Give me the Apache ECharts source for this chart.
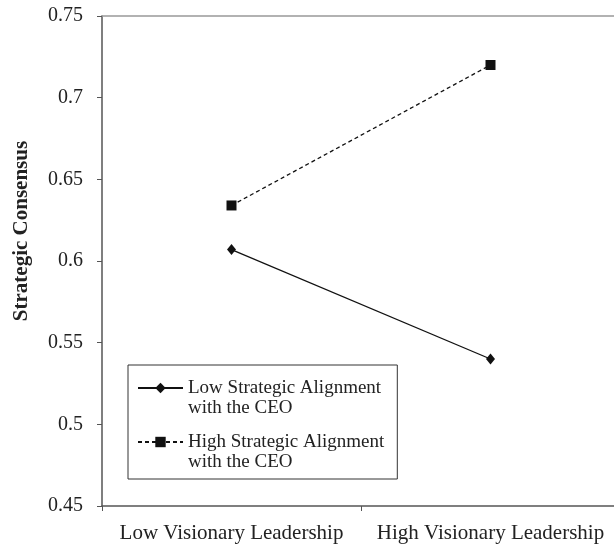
<!DOCTYPE html>
<html>
<head>
<meta charset="utf-8">
<script src="https://cdn.jsdelivr.net/npm/echarts@6/dist/echarts.min.js"></script>
<style>
  html, body { margin: 0; padding: 0; background: #fff; }
  #chart { width: 614px; height: 544px; }
</style>
</head>
<body>
<div id="chart"></div>
<script>
// 数据
const categories = ['Low Visionary Leadership', 'High Visionary Leadership']
const lowAlignment = [0.607, 0.540]
const highAlignment = [0.634, 0.720]
const seriesNames = ['Low Strategic Alignment\nwith the CEO', 'High Strategic Alignment\nwith the CEO']
const yMin = 0.45
const yMax = 0.75
const yStep = 0.05

const font = 'Liberation Serif'
const myChart = echarts.init(document.getElementById('chart'))

myChart.setOption({
  animation: false,
  textStyle: { fontFamily: font },
  grid: {
    left: 102,
    width: 518,
    top: 16,
    bottom: 38,
    outerBoundsMode: 'none'
  },
  legend: {
    left: 128,
    top: 365,
    orient: 'vertical',
    itemWidth: 45,
    itemHeight: 13,
    itemGap: -6,
    padding: [-7, 13, 7, 9],
    borderColor: '#333',
    borderWidth: 1,
    selectedMode: false,
    // 前面加空行，让图标对齐第一行文字
    formatter: name => '\n' + name,
    textStyle: {
      fontFamily: font,
      fontSize: 19,
      lineHeight: 20,
      color: '#222'
    },
    data: seriesNames
  },
  xAxis: [
    {
      type: 'category',
      data: categories,
      boundaryGap: true,
      axisLine: {
        show: true,
        lineStyle: { color: '#555', width: 1.5 }
      },
      axisTick: {
        show: true,
        interval: 0,
        length: 5,
        lineStyle: { color: '#555' }
      },
      axisLabel: {
        interval: 0,
        color: '#222',
        fontSize: 21,
        fontFamily: font,
        margin: 17
      }
    },
    {
      type: 'category',
      data: categories,
      position: 'top',
      axisLine: {
        show: true,
        lineStyle: { color: '#999', width: 1.5 }
      },
      axisTick: { show: false },
      axisLabel: { show: false }
    }
  ],
  yAxis: {
    type: 'value',
    min: yMin,
    max: yMax,
    interval: yStep,
    name: 'Strategic Consensus',
    nameLocation: 'middle',
    nameGap: 70,
    nameTextStyle: {
      fontFamily: font,
      fontSize: 21,
      fontWeight: 'bold',
      color: '#222',
      padding: [0, 0, 0, 60]
    },
    splitLine: { show: false },
    axisLine: {
      show: true,
      lineStyle: { color: '#555', width: 1.5 }
    },
    axisTick: {
      show: true,
      length: 5,
      lineStyle: { color: '#555' }
    },
    axisLabel: {
      color: '#222',
      fontSize: 20,
      fontFamily: font,
      margin: 19
    }
  },
  series: [
    {
      name: seriesNames[0],
      type: 'line',
      data: lowAlignment,
      symbol: 'diamond',
      symbolSize: [9, 11],
      itemStyle: { color: '#111' },
      lineStyle: { color: '#111', width: 1.3 }
    },
    {
      name: seriesNames[1],
      type: 'line',
      data: highAlignment,
      symbol: 'rect',
      symbolSize: 10,
      itemStyle: { color: '#111' },
      lineStyle: { color: '#111', width: 1.3, type: [4, 3] }
    }
  ]
})
</script>
</body>
</html>
